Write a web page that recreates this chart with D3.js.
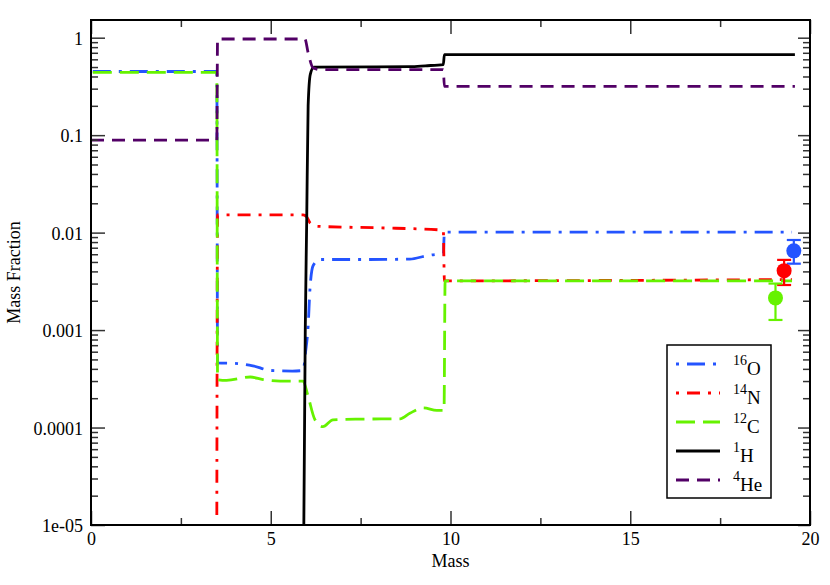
<!DOCTYPE html>
<html>
<head>
<meta charset="utf-8">
<script src="https://cdn.jsdelivr.net/npm/d3@7"></script>
<style>
  body { margin: 0; background: #fff; }
  text { font-family: "Liberation Serif", "Times New Roman", serif; fill: #000; }
</style>
</head>
<body>
<script>
// mass coordinate vs mass fraction, one array per species
const o16 = [[0.05,0.45],[3.5,0.45],[3.52,4.6e-4],[4.0,4.55e-4],[4.5,4.3e-4],[5.0,3.85e-4],[5.6,3.8e-4],[5.9,3.85e-4],
  [5.97,6e-4],[6.04,1.1e-3],[6.09,2.6e-3],[6.18,4.6e-3],[6.37,5.3e-3],[7.5,5.3e-3],[8.87,5.35e-3],[9.35,5.8e-3],
  [9.7,6.0e-3],[9.8,6.0e-3],[9.83,0.0101],[19.5,0.0101]];
const n14 = [[3.5,1.27e-5],[3.52,0.0152],[5.9,0.0152],[6.0,0.0145],[6.1,0.0125],[6.3,0.0116],[8,0.0112],[9.8,0.0106],
  [9.83,0.0032],[19.5,0.0033]];
const c12 = [[0.05,0.44],[3.5,0.44],[3.52,3.1e-4],[3.77,3.05e-4],[4.43,3.3e-4],[4.79,3.1e-4],[5.26,3.0e-4],[5.9,3.0e-4],
  [6.03,2.15e-4],[6.23,1.2e-4],[6.45,1.02e-4],[6.73,1.2e-4],[7.5,1.22e-4],[8.6,1.23e-4],[8.87,1.4e-4],[9.24,1.59e-4],
  [9.62,1.5e-4],[9.82,1.5e-4],[9.85,3.2e-3],[19.5,3.2e-3]];
const h1 = [[5.88,1e-6],[5.92,1e-5],[5.96,1e-3],[6.0,0.013],[6.04,0.2],[6.1,0.42],[6.2,0.5],[8.87,0.505],[9.3,0.515],
  [9.8,0.53],[9.83,0.67],[19.58,0.67]];
const he4 = [[0,0.089],[3.5,0.089],[3.52,0.97],[5.95,0.97],[6.04,0.7],[6.18,0.49],[6.4,0.47],[9.8,0.47],[9.83,0.316],
  [19.58,0.316]];

// observed abundances with error bars
const obsMass = [19.55, 19.28, 19.04];
const obsValue = [6.5e-3, 4.07e-3, 2.14e-3];
const obsLow = [4.8e-3, 2.9e-3, 1.27e-3];
const obsHigh = [8.4e-3, 5.25e-3, 3.0e-3];
const obsColor = ["#2454ff", "#ff0000", "#66f200"];

const seriesNames = ["16|O", "14|N", "12|C", "1|H", "4|He"];
const seriesData = [o16, n14, c12, h1, he4];
const seriesColor = ["#2454ff", "#ff0000", "#66f200", "#000000", "#520066"];
const seriesDash = ["18,8,3,8", "13,8,3,8", "19,8", null, "13,8"];
const legendDash = ["3,8,18,8", "3,8,13,8", "19,8", null, "13,8"];

const yTickLabels = ["1e-05", "0.0001", "0.001", "0.01", "0.1", "1"];

const W = 830, H = 585;
const m = {left: 91, right: 20, top: 20, bottom: 60};

const svg = d3.select("body").append("svg").attr("width", W).attr("height", H);

const x = d3.scaleLinear().domain([0, 20]).range([m.left, W - m.right]);
const y = d3.scaleLog().domain([1e-5, 1.519]).range([H - m.bottom, m.top]);

svg.append("clipPath").attr("id", "clip")
  .append("rect").attr("x", m.left).attr("y", m.top)
  .attr("width", W - m.left - m.right).attr("height", H - m.top - m.bottom);

const line = d3.line().x(d => x(d[0])).y(d => y(d[1])).curve(d3.curveMonotoneX);

const plot = svg.append("g").attr("clip-path", "url(#clip)");
seriesData.forEach((d, i) => {
  plot.append("path")
    .attr("d", line(d))
    .attr("fill", "none")
    .attr("stroke", seriesColor[i])
    .attr("stroke-width", 2.8)
    .attr("stroke-dasharray", seriesDash[i]);
});

// observations
obsMass.forEach((mm, i) => {
  const g = svg.append("g").attr("stroke", obsColor[i]).attr("stroke-width", 2.2);
  g.append("line").attr("x1", x(mm)).attr("x2", x(mm)).attr("y1", y(obsLow[i])).attr("y2", y(obsHigh[i]));
  [obsLow[i], obsHigh[i]].forEach(v => {
    g.append("line").attr("x1", x(mm) - 7).attr("x2", x(mm) + 7).attr("y1", y(v)).attr("y2", y(v));
  });
  svg.append("circle").attr("cx", x(mm)).attr("cy", y(obsValue[i])).attr("r", 7.5).attr("fill", obsColor[i]);
});

// axes: ticks point inward on all four sides
const majorX = d3.range(0, 21, 5), minorX = d3.range(2.5, 20, 5);
const majorY = [1e-5, 1e-4, 1e-3, 1e-2, 1e-1, 1];
const minorY = [];
for (let e = -5; e <= 0; e++) for (let k = 2; k <= 9; k++) {
  const v = k * Math.pow(10, e);
  if (v <= 1.519) minorY.push(v);
}

const bottom = svg.append("g").attr("transform", `translate(0,${H - m.bottom})`)
  .call(d3.axisBottom(x).tickValues(majorX).tickSize(-14).tickPadding(7).tickFormat(d3.format("d")));
svg.append("g").attr("transform", `translate(0,${H - m.bottom})`)
  .call(d3.axisBottom(x).tickValues(minorX).tickSize(-7).tickFormat(""));
svg.append("g").attr("transform", `translate(0,${m.top})`)
  .call(d3.axisTop(x).tickValues(majorX).tickSize(-14).tickFormat(""));
svg.append("g").attr("transform", `translate(0,${m.top})`)
  .call(d3.axisTop(x).tickValues(minorX).tickSize(-7).tickFormat(""));

const left = svg.append("g").attr("transform", `translate(${m.left},0)`)
  .call(d3.axisLeft(y).tickValues(majorY).tickSize(-14).tickPadding(8).tickFormat((d, i) => yTickLabels[i]));
svg.append("g").attr("transform", `translate(${m.left},0)`)
  .call(d3.axisLeft(y).tickValues(minorY).tickSize(-7).tickFormat(""));
svg.append("g").attr("transform", `translate(${W - m.right},0)`)
  .call(d3.axisRight(y).tickValues(majorY).tickSize(-12).tickFormat(""));
svg.append("g").attr("transform", `translate(${W - m.right},0)`)
  .call(d3.axisRight(y).tickValues(minorY).tickSize(-7).tickFormat(""));

svg.selectAll(".domain").remove();
svg.selectAll("g").attr("font-family", "Liberation Serif");
svg.selectAll(".tick line").attr("stroke", "#333").attr("stroke-width", 1.5);
svg.selectAll(".tick text").attr("font-size", 18).attr("fill", "#000");
bottom.selectAll(".tick text").attr("dy", "0.71em");
left.selectAll(".tick text").attr("dy", "0.36em");

svg.append("rect")
  .attr("x", m.left).attr("y", m.top)
  .attr("width", W - m.left - m.right).attr("height", H - m.top - m.bottom)
  .attr("fill", "none").attr("stroke", "#000").attr("stroke-width", 2);

svg.append("text").attr("x", x(10)).attr("y", 567).attr("text-anchor", "middle")
  .attr("font-size", 18).text("Mass");
svg.append("text").attr("transform", `translate(20,${(m.top + H - m.bottom) / 2}) rotate(-90)`)
  .attr("text-anchor", "middle").attr("font-size", 18).text("Mass Fraction");

// legend
const lg = svg.append("g");
lg.append("rect").attr("x", 667).attr("y", 345).attr("width", 104).attr("height", 153)
  .attr("fill", "#fff").attr("stroke", "#000").attr("stroke-width", 1.5);
seriesNames.forEach((name, i) => {
  const ly = 364 + i * 29;
  lg.append("line").attr("x1", 676).attr("x2", 720).attr("y1", ly).attr("y2", ly)
    .attr("stroke", seriesColor[i]).attr("stroke-width", 2.8).attr("stroke-dasharray", legendDash[i]);
  const [sup, el] = name.split("|");
  const t = lg.append("text").attr("x", 733).attr("y", ly + 11).attr("font-size", 19);
  t.append("tspan").attr("font-size", 14).attr("dy", -10).text(sup);
  t.append("tspan").attr("dy", 10).text(el);
});
</script>
</body>
</html>
